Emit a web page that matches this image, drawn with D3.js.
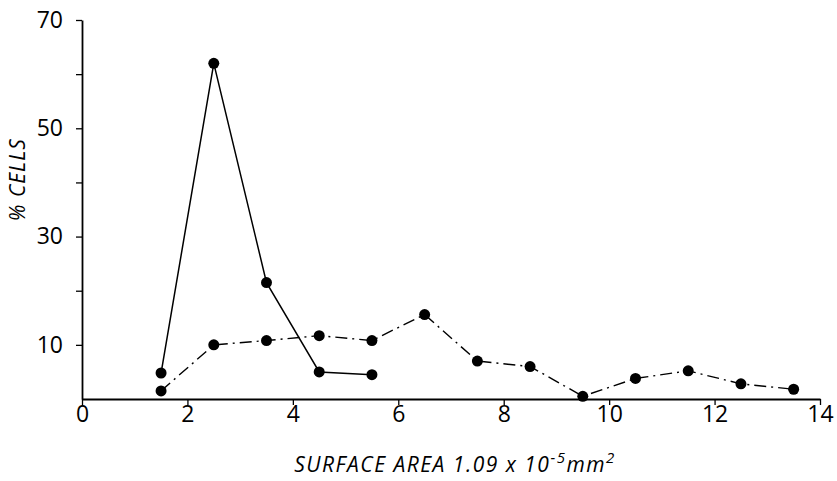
<!DOCTYPE html>
<html>
<head>
<meta charset="utf-8">
<script src="https://cdn.jsdelivr.net/npm/d3@7"></script>
<style>
  body { margin: 0; background: #fff; }
  svg text { font-family: "Open Sans", "DejaVu Sans", sans-serif; fill: #000; }
</style>
</head>
<body>
<div id="chart"></div>
<script>
// surface area bins (x) and % cells for the two curves
var solidX = [1.5, 2.5, 3.5, 4.5, 5.5];
var solidY = [4.8, 62, 21.5, 5, 4.5];
var dashX = [1.5, 2.5, 3.5, 4.5, 5.5, 6.5, 7.5, 8.5, 9.5, 10.5, 11.5, 12.5, 13.5];
var dashY = [1.5, 10, 10.8, 11.7, 10.8, 15.6, 7, 6, 0.5, 3.8, 5.2, 2.8, 1.8];
var xTicks = [0, 2, 4, 6, 8, 10, 12, 14];
var yTicks = [10, 20, 30, 40, 50, 60, 70];
var yLabels = [10, 30, 50, 70];

var width = 837, height = 481;
var margin = {top: 20, right: 17, bottom: 82, left: 82};

var svg = d3.select("#chart").append("svg")
  .attr("width", width)
  .attr("height", height);

var x = d3.scaleLinear().domain([0, 14]).range([margin.left, width - margin.right]);
var y = d3.scaleLinear().domain([0, 70]).range([height - margin.bottom, margin.top]);

// x axis
var xAxis = svg.append("g")
  .attr("transform", "translate(0," + y(0) + ")")
  .call(d3.axisBottom(x).tickValues(xTicks).tickSize(6).tickPadding(1).tickSizeOuter(0));
xAxis.selectAll("path, line").attr("stroke", "#000");
xAxis.select(".domain").attr("stroke-width", 2);
xAxis.selectAll(".tick line").attr("stroke-width", 1.3);
xAxis.selectAll("text").style("font-size", "23px");

// y axis
var yAxis = svg.append("g")
  .attr("transform", "translate(" + x(0) + ",0)")
  .call(d3.axisLeft(y).tickValues(yTicks).tickSize(6).tickPadding(13).tickSizeOuter(0)
    .tickFormat(function(d) { return yLabels.indexOf(d) >= 0 ? d : ""; }));
yAxis.selectAll("path, line").attr("stroke", "#000");
yAxis.select(".domain").attr("stroke-width", 1.8);
yAxis.selectAll(".tick line").attr("stroke-width", 1.3);
yAxis.selectAll("text").style("font-size", "23px");

// axis titles
svg.append("text")
  .attr("transform", "translate(25," + y(40.5) + ") rotate(-90)")
  .attr("text-anchor", "middle")
  .style("font-size", "21px")
  .style("font-style", "italic")
  .style("letter-spacing", "1px")
  .text("% CELLS");

var xt = svg.append("text")
  .attr("x", 455)
  .attr("y", 472)
  .attr("text-anchor", "middle")
  .style("font-size", "21px")
  .style("font-style", "italic")
  .style("letter-spacing", "1.5px");
xt.append("tspan").text("SURFACE  AREA 1.09 x 10");
xt.append("tspan").attr("dy", -9).style("font-size", "15px").text("-5");
xt.append("tspan").attr("dy", 9).text("mm");
xt.append("tspan").attr("dy", -9).style("font-size", "15px").text("2");

var line = d3.line()
  .x(function(d) { return x(d[0]); })
  .y(function(d) { return y(d[1]); });

var dashData = d3.zip(dashX, dashY);
var solidData = d3.zip(solidX, solidY);

svg.append("path")
  .datum(dashData)
  .attr("fill", "none")
  .attr("stroke", "#000")
  .attr("stroke-width", 1.4)
  .attr("stroke-dasharray", "12,5,2,5")
  .attr("d", line);

svg.append("path")
  .datum(solidData)
  .attr("fill", "none")
  .attr("stroke", "#000")
  .attr("stroke-width", 1.5)
  .attr("d", line);

svg.selectAll(".dot")
  .data(dashData.concat(solidData))
  .enter().append("circle")
  .attr("cx", function(d) { return x(d[0]); })
  .attr("cy", function(d) { return y(d[1]); })
  .attr("r", 5.5)
  .attr("fill", "#000");
</script>
</body>
</html>
